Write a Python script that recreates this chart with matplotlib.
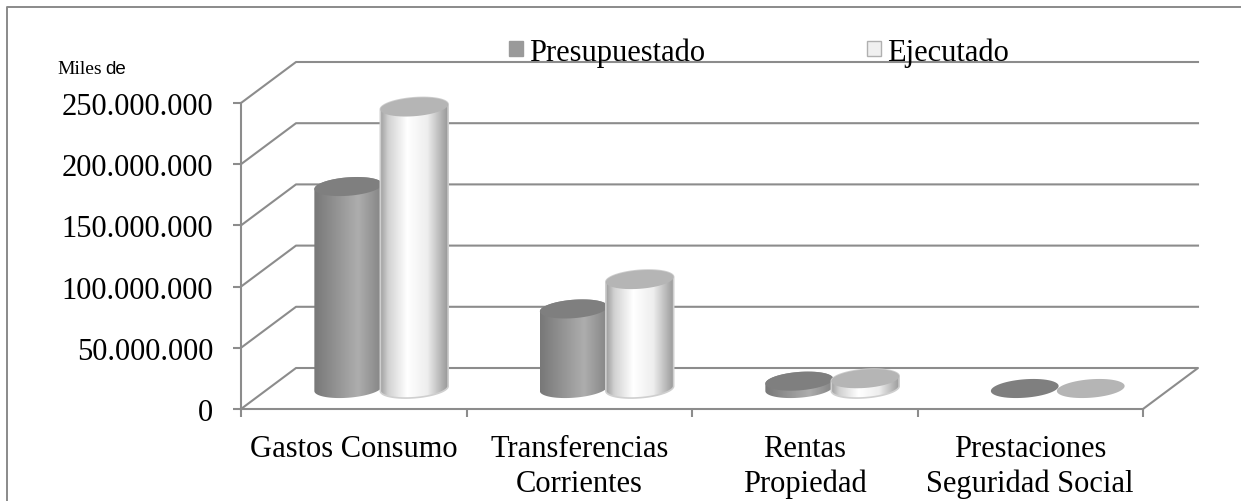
import numpy as np
import matplotlib
matplotlib.use('Agg')
import matplotlib.pyplot as plt
from matplotlib.patches import Patch, PathPatch, Polygon
from matplotlib.path import Path
from matplotlib.ticker import FuncFormatter

categorias = ['Gastos Consumo', 'Transferencias\nCorrientes', 'Rentas\nPropiedad',
              'Prestaciones\nSeguridad Social']
presupuestado = [165000000, 65000000, 6000000, 0]
ejecutado = [230000000, 89000000, 8000000, 0]
y_ticks = [0, 50000000, 100000000, 150000000, 200000000, 250000000]

W, H = 1242, 502
GRID = '#8c8c8c'

# front plane of the fake 3D box, in pixels of the reference
left, right, top, bottom = 241, 1143, 104, 410
depth_px = (55, 41)
radius_px = (34, 9.2)
tilt = np.radians(4.5)

plt.rcParams['font.family'] = ['Liberation Serif', 'DejaVu Serif']

fig = plt.figure(figsize=(W / 100, H / 100), dpi=100)
ax = fig.add_axes([left / W, 1 - bottom / H, (right - left) / W, (bottom - top) / H])
ax.patch.set_alpha(0)
ax.set_xlim(0, 4)
ax.set_ylim(0, 250000000)

# data units per pixel
ux = 4 / (right - left)
uy = 250000000 / (bottom - top)
dx, dy = depth_px[0] * ux, depth_px[1] * uy

# chart border, runs off the picture on the right and bottom
fig.add_artist(plt.Line2D([7 / W, 7 / W, 1240 / W], [0, 1 - 8 / H, 1 - 8 / H], color='#8a8a8a', lw=1.4))

# walls and floor
for t in y_ticks:
    if t == 0:
        ax.plot([0, dx, 4 + dx, 4], [0, dy, dy, 0], color=GRID, lw=1.5, clip_on=False, zorder=1)
    else:
        ax.plot([0, dx, 4 + dx], [t, t + dy, t + dy], color=GRID, lw=1.5, clip_on=False, zorder=1)


def ellipse_arc(cx, cy, t0, t1, n=60):
    # tilted ellipse, built in pixels and turned into data units
    t = np.linspace(t0, t1, n)
    a, b = radius_px
    px = a * np.cos(t) * np.cos(tilt) - b * np.sin(t) * np.sin(tilt)
    py = a * np.cos(t) * np.sin(tilt) + b * np.sin(t) * np.cos(tilt)
    return np.column_stack((cx + px * ux, cy + py * uy))


def cylinder(cx, value, stops, shades, cap, rim, z):
    base = dy / 2
    if value > 0:
        outline = np.vstack((ellipse_arc(cx, base, 0, -np.pi),
                             ellipse_arc(cx, base + value, np.pi, 0)))
        clip = PathPatch(Path(outline), transform=ax.transData, fc='none', ec='none')
        ax.add_patch(clip)
        shade = np.interp(np.linspace(0, 1, 120), stops, shades).reshape(1, -1)
        half = radius_px[0] * ux
        im = ax.imshow(shade, cmap='gray', vmin=0, vmax=1, aspect='auto', zorder=z,
                       extent=(cx - half, cx + half, base - 12 * uy, base + value + 12 * uy),
                       interpolation='bilinear')
        im.set_clip_path(clip)
        im.set_clip_on(True)
        if rim:
            ax.add_patch(Polygon(outline, closed=True, fc='none', ec=rim, lw=1.2,
                                 zorder=z + 0.2, clip_on=False))
    ax.add_patch(Polygon(ellipse_arc(cx, base + value, 0, 2 * np.pi), closed=True,
                         fc=cap, ec='none', zorder=z + 0.5, clip_on=False))


bar_off = 33 * ux
for i in range(len(categorias)):
    cx = i + 0.5 + dx / 2
    cylinder(cx - bar_off, presupuestado[i], [0, 0.65, 1],
             [0.47, 0.68, 0.52], '#7f7f7f', None, 3 + i)
    cylinder(cx + bar_off, ejecutado[i], [0, 0.12, 0.4, 0.7, 1],
             [0.62, 0.82, 1.0, 0.93, 0.6], '#b5b5b5', '#cfcfcf', 3.7 + i)

ax.set_xlim(0, 4)
ax.set_ylim(0, 250000000)

for side in ('top', 'right'):
    ax.spines[side].set_visible(False)
for side in ('left', 'bottom'):
    ax.spines[side].set_color(GRID)
    ax.spines[side].set_linewidth(1.5)

ax.set_yticks(y_ticks)
ax.yaxis.set_major_formatter(FuncFormatter(lambda v, p: f'{int(v):,}'.replace(',', '.')))
ax.set_xticks(range(5))
ax.set_xticklabels([])
ax.set_xticks(np.arange(4) + 0.5, minor=True)
ax.set_xticklabels(categorias, minor=True, fontsize=22, linespacing=1.26)
ax.tick_params(axis='x', which='major', length=6, width=1.5, color=GRID)
ax.tick_params(axis='x', which='minor', length=0, pad=18)
ax.tick_params(axis='y', length=6, width=1.5, color=GRID, labelsize=22, pad=14)

handles = [Patch(fc='#9a9a9a', ec='#9a9a9a', label='Presupuestado'),
           Patch(fc='#f0f0f0', ec='#b0b0b0', label='Ejecutado')]
fig.legend(handles=handles, loc='upper left', bbox_to_anchor=(509 / W, 1 - 38 / H), ncol=2,
           frameon=False, fontsize=22, handlelength=0.46, handleheight=0.34,
           handletextpad=0.2, columnspacing=5.3, borderaxespad=0, borderpad=0)

fig.text(57 / W, 1 - 70 / H, 'Miles', fontsize=14, va='center', ha='left')
fig.text(105 / W, 1 - 70 / H, 'de', fontsize=13.5, va='center', ha='left', family='Liberation Sans')

fig.savefig('out.png', dpi=100)
